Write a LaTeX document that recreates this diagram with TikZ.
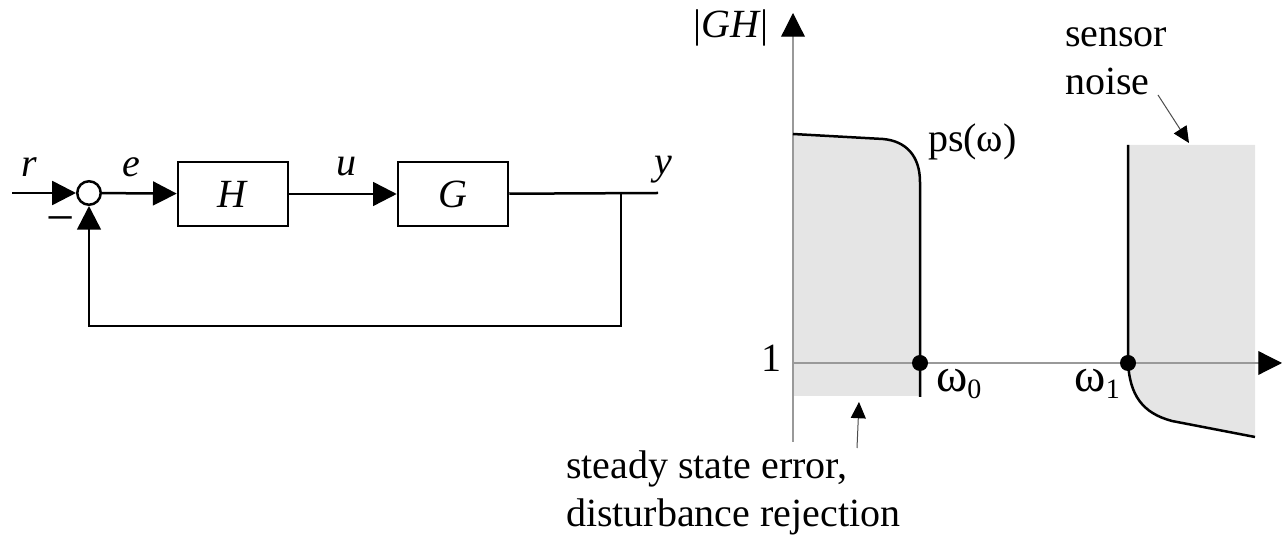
\documentclass[tikz,border=0pt]{standalone}
\usepackage{fontspec}
\setmainfont{Liberation Serif}
\usetikzlibrary{arrows.meta}

\begin{document}
\begin{tikzpicture}[
  x=0.4pt, y=-0.4pt,
  every node/.style={inner sep=1pt, font=\fontsize{16}{19}\selectfont},
  block/.style={draw, line width=1pt, minimum width=44pt, minimum height=25.6pt},
  sum/.style={circle, draw, line width=1pt, minimum size=9.4pt, inner sep=0pt},
  dot/.style={circle, fill=black, minimum size=6.4pt, inner sep=0pt},
  sig/.style={draw, line width=1pt},
  arrow/.style={draw, line width=1pt, -{Triangle[length=9.5pt, width=9.5pt]}},
  axis/.style={draw=black!40, line width=0.5pt, -{Triangle[length=9.5pt, width=9.5pt, color=black]}},
  pointer/.style={draw=black!70, line width=0.4pt, -{Triangle[length=6.5pt, width=6pt, color=black]}},
  band/.style={fill=black!10},
  bound/.style={draw, line width=1pt}]

  \useasboundingbox (0,0) rectangle (1282,538);

  % feedback loop
  \coordinate (in)     at (12,193);
  \node[sum]   (sum)   at (89,193) {};
  \node[block] (H)     at (233,194) {\textit{H}};
  \node[block] (G)     at (453,194) {\textit{G}};
  \coordinate (branch) at (621,193);
  \coordinate (out)    at (658,193);
  \coordinate (fbr)    at (621,326);
  \coordinate (fbl)    at (89,326);

  \node (r)     at (29,167)  {\textit{r}};
  \node (e)     at (131,167) {\textit{e}};
  \node (u)     at (346,167) {\textit{u}};
  \node (y)     at (663,170) {\textit{y}};
  \node (minus) at (61,226)  {\fontsize{20}{20}\selectfont −};

  \draw[arrow] (in) -- (sum);
  \draw[arrow] (sum) -- (H);
  \draw[arrow] (H) -- (G);
  \draw[sig]   (G) -- (out);
  \draw[arrow] (branch) -- (fbr) -- (fbl) -- (sum);

  % magnitude plot
  \coordinate (O)    at (793,363);
  \coordinate (ytop) at (793,13);
  \coordinate (ybot) at (793,442);
  \coordinate (xend) at (1282,363);

  \fill[band] (793,134) -- (883,139) .. controls (906,141) and (920,156) .. (920,182)
    -- (920,396) -- (793,396) -- cycle;
  \fill[band] (1128,145) -- (1255,145) -- (1255,437) -- (1172,421)
    .. controls (1142,413) and (1130,395) .. (1128,363) -- cycle;

  \draw[axis] (ybot) -- (ytop);
  \draw[axis] (O) -- (xend);

  \draw[bound] (793,134) -- (883,139) .. controls (906,141) and (920,156) .. (920,182)
    -- (920,397);
  \draw[bound] (1128,145) -- (1128,363)
    .. controls (1130,395) and (1142,413) .. (1172,421) -- (1255,437);

  \node[dot] (w0) at (920,363) {};
  \node[dot] (w1) at (1128,363) {};

  \node[anchor=east]      (GH)  at (772,28)   {|\textit{GH}|};
  \node[anchor=east]      (one) at (784,358)  {1};
  \node[anchor=base west] (ps)  at (925,152)  {ps(ω)};
  \node[anchor=base west] (w0l) at (933,392)  {{\fontsize{19}{19}\selectfont ω}\textsubscript{0}};
  \node[anchor=base east] (w1l) at (1124,392) {{\fontsize{19}{19}\selectfont ω}\textsubscript{1}};

  \node[anchor=north west, align=left] (noise) at (1062,25) {sensor\\noise};
  \node[anchor=north west, align=left] (err)   at (563,448) {steady state error,\\disturbance rejection};

  \coordinate (noisetail) at (1158,95);
  \coordinate (noisetip)  at (1189,143);
  \coordinate (errtail)   at (857,448);
  \coordinate (errtip)    at (859,402);
  \draw[pointer] (noisetail) -- (noisetip);
  \draw[pointer] (errtail) -- (errtip);

\end{tikzpicture}
\end{document}
